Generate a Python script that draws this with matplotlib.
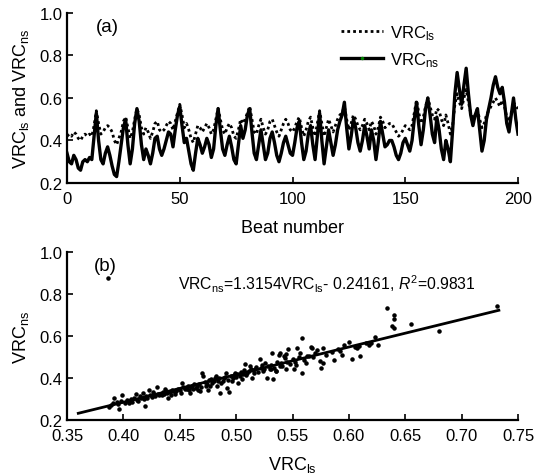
import numpy as np
import matplotlib
matplotlib.use("Agg")
import matplotlib.pyplot as plt
from matplotlib.lines import Line2D

plt.rcParams['font.family'] = ['Liberation Sans', 'DejaVu Sans']
plt.rcParams['mathtext.fontset'] = 'custom'
plt.rcParams['mathtext.rm'] = 'Liberation Sans'
plt.rcParams['mathtext.it'] = 'Liberation Sans:italic'

# beat-by-beat values, beats 0..200
vrc_ns = [0.34, 0.30, 0.29, 0.33, 0.31, 0.27, 0.26, 0.30, 0.31, 0.30,
          0.32, 0.31, 0.42, 0.53, 0.40, 0.31, 0.29, 0.34, 0.37, 0.33,
          0.28, 0.24, 0.23, 0.30, 0.38, 0.46, 0.50, 0.38, 0.29, 0.36,
          0.48, 0.55, 0.49, 0.38, 0.31, 0.36, 0.33, 0.29, 0.34, 0.41,
          0.42, 0.36, 0.33, 0.36, 0.40, 0.44, 0.43, 0.37, 0.45, 0.52,
          0.56, 0.47, 0.39, 0.41, 0.35, 0.29, 0.26, 0.34, 0.41, 0.38,
          0.34, 0.37, 0.41, 0.38, 0.32, 0.36, 0.47, 0.55, 0.45, 0.36,
          0.33, 0.38, 0.42, 0.37, 0.31, 0.29, 0.38, 0.47, 0.41, 0.45,
          0.52, 0.55, 0.44, 0.34, 0.31, 0.38, 0.45, 0.38, 0.31, 0.34,
          0.41, 0.44, 0.39, 0.33, 0.30, 0.34, 0.39, 0.42, 0.38, 0.34,
          0.33, 0.39, 0.46, 0.49, 0.39, 0.31, 0.35, 0.43, 0.47, 0.38,
          0.31, 0.42, 0.53, 0.40, 0.29, 0.37, 0.45, 0.39, 0.33, 0.38,
          0.45, 0.49, 0.52, 0.58, 0.46, 0.36, 0.42, 0.50, 0.46, 0.39,
          0.35, 0.40, 0.47, 0.42, 0.36, 0.45, 0.40, 0.31, 0.39, 0.49,
          0.43, 0.37, 0.38, 0.40, 0.40, 0.37, 0.33, 0.31, 0.34, 0.39,
          0.41, 0.38, 0.35, 0.40, 0.50, 0.58, 0.47, 0.38, 0.45, 0.55,
          0.60, 0.52, 0.43, 0.39, 0.51, 0.45, 0.36, 0.31, 0.40, 0.36,
          0.30, 0.45, 0.62, 0.72, 0.64, 0.57, 0.66, 0.74, 0.62, 0.52,
          0.47, 0.52, 0.55, 0.45, 0.35, 0.40, 0.50, 0.55, 0.60, 0.66,
          0.70, 0.65, 0.62, 0.65, 0.58, 0.48, 0.44, 0.52, 0.60, 0.50,
          0.43]

vrc_ls = [0.42, 0.43, 0.42, 0.44, 0.43, 0.41, 0.40, 0.42, 0.43, 0.42,
          0.43, 0.42, 0.47, 0.54, 0.48, 0.43, 0.44, 0.46, 0.47, 0.46,
          0.44, 0.40, 0.38, 0.41, 0.44, 0.49, 0.51, 0.46, 0.41, 0.44,
          0.50, 0.55, 0.52, 0.46, 0.43, 0.46, 0.44, 0.41, 0.44, 0.48,
          0.49, 0.45, 0.44, 0.45, 0.47, 0.49, 0.48, 0.45, 0.49, 0.53,
          0.57, 0.52, 0.46, 0.48, 0.45, 0.41, 0.39, 0.43, 0.47, 0.46,
          0.44, 0.46, 0.48, 0.46, 0.43, 0.45, 0.50, 0.55, 0.50, 0.45,
          0.43, 0.46, 0.48, 0.46, 0.42, 0.41, 0.45, 0.50, 0.48, 0.50,
          0.53, 0.56, 0.50, 0.44, 0.43, 0.47, 0.50, 0.46, 0.43, 0.45,
          0.49, 0.50, 0.47, 0.44, 0.42, 0.45, 0.48, 0.50, 0.48, 0.45,
          0.44, 0.46, 0.49, 0.51, 0.46, 0.42, 0.45, 0.49, 0.51, 0.46,
          0.42, 0.48, 0.54, 0.48, 0.42, 0.46, 0.50, 0.47, 0.44, 0.47,
          0.50, 0.52, 0.53, 0.56, 0.50, 0.45, 0.48, 0.52, 0.50, 0.47,
          0.45, 0.47, 0.50, 0.48, 0.45, 0.49, 0.47, 0.43, 0.46, 0.51,
          0.49, 0.46, 0.47, 0.48, 0.48, 0.46, 0.44, 0.42, 0.43, 0.45,
          0.47, 0.46, 0.45, 0.47, 0.53, 0.59, 0.53, 0.48, 0.51, 0.56,
          0.60, 0.56, 0.52, 0.50, 0.55, 0.54, 0.50, 0.47, 0.52, 0.48,
          0.43, 0.47, 0.57, 0.62, 0.58, 0.55, 0.60, 0.64, 0.58, 0.53,
          0.50, 0.52, 0.54, 0.50, 0.46, 0.48, 0.52, 0.54, 0.56, 0.58,
          0.60, 0.58, 0.56, 0.59, 0.56, 0.51, 0.49, 0.53, 0.58, 0.56,
          0.55]

beats = np.arange(len(vrc_ns))

# scatter points
sc_ls = [0.387, 0.396, 0.392, 0.394, 0.399, 0.404, 0.407, 0.411, 0.416, 0.419,
         0.417, 0.423, 0.427, 0.430, 0.434, 0.437, 0.440, 0.443, 0.446, 0.452,
         0.455, 0.459, 0.461, 0.464, 0.468, 0.470, 0.471, 0.473, 0.475, 0.479,
         0.482, 0.483, 0.486, 0.488, 0.491, 0.492, 0.494, 0.497, 0.499, 0.502,
         0.505, 0.508, 0.510, 0.513, 0.514, 0.517, 0.521, 0.524, 0.527, 0.530,
         0.533, 0.539, 0.542,
         0.389, 0.391, 0.395, 0.398, 0.401, 0.403, 0.405, 0.408, 0.409, 0.412,
         0.413, 0.415, 0.418, 0.420, 0.421, 0.424, 0.425, 0.426, 0.428, 0.431,
         0.432, 0.435, 0.436, 0.438, 0.439, 0.441, 0.442, 0.444, 0.447, 0.448,
         0.450, 0.451, 0.453, 0.456, 0.457, 0.458, 0.460, 0.462, 0.463, 0.465,
         0.466, 0.467, 0.469, 0.472, 0.474, 0.476, 0.477, 0.478, 0.480, 0.481,
         0.484, 0.485, 0.487, 0.489, 0.490, 0.493, 0.495, 0.496, 0.498, 0.500,
         0.501, 0.503, 0.504, 0.506, 0.507, 0.509, 0.511, 0.512, 0.515, 0.516,
         0.518, 0.519, 0.522, 0.523, 0.525, 0.526, 0.528, 0.531, 0.534, 0.536,
         0.540, 0.541, 0.545, 0.548, 0.550, 0.552, 0.556, 0.560, 0.563, 0.568,
         0.570, 0.580, 0.585, 0.592, 0.605, 0.618, 0.620,
         0.546, 0.544, 0.543, 0.538, 0.532, 0.535, 0.544, 0.551, 0.553, 0.535,
         0.539, 0.531, 0.554, 0.557, 0.562, 0.558, 0.565, 0.574, 0.575, 0.577,
         0.558, 0.566, 0.567, 0.572, 0.577, 0.587, 0.590, 0.594, 0.596, 0.600,
         0.603, 0.607, 0.609, 0.610, 0.615, 0.623, 0.626,
         0.634, 0.640, 0.640, 0.638, 0.640, 0.655, 0.680, 0.731, 0.386]
sc_ns = [0.260, 0.252, 0.303, 0.287, 0.318, 0.291, 0.300, 0.322, 0.306, 0.268,
         0.330, 0.343, 0.322, 0.358, 0.318, 0.346, 0.306, 0.343, 0.322, 0.374,
         0.346, 0.330, 0.364, 0.351, 0.338, 0.426, 0.410, 0.364, 0.343, 0.378,
         0.410, 0.364, 0.330, 0.386, 0.426, 0.351, 0.335, 0.402, 0.426, 0.378,
         0.394, 0.467, 0.426, 0.443, 0.402, 0.443, 0.490, 0.435, 0.402, 0.443,
         0.397, 0.520, 0.507,
         0.272, 0.281, 0.276, 0.290, 0.283, 0.296, 0.280, 0.288, 0.305, 0.296,
         0.289, 0.312, 0.300, 0.316, 0.305, 0.318, 0.310, 0.331, 0.313, 0.326,
         0.317, 0.333, 0.322, 0.338, 0.327, 0.335, 0.321, 0.340, 0.338, 0.350,
         0.343, 0.330, 0.355, 0.350, 0.362, 0.345, 0.355, 0.348, 0.371, 0.360,
         0.342, 0.370, 0.358, 0.380, 0.371, 0.390, 0.362, 0.395, 0.385, 0.398,
         0.387, 0.402, 0.375, 0.398, 0.405, 0.392, 0.410, 0.385, 0.415, 0.403,
         0.420, 0.408, 0.430, 0.418, 0.440, 0.412, 0.432, 0.455, 0.438, 0.425,
         0.452, 0.430, 0.448, 0.460, 0.442, 0.470, 0.455, 0.462, 0.450, 0.476,
         0.470, 0.455, 0.478, 0.468, 0.490, 0.475, 0.498, 0.485, 0.505, 0.500,
         0.520, 0.510, 0.525, 0.530, 0.548, 0.556, 0.565,
         0.540, 0.512, 0.497, 0.511, 0.520, 0.433, 0.445, 0.441, 0.462, 0.433,
         0.457, 0.441, 0.544, 0.520, 0.473, 0.425, 0.504, 0.480, 0.449, 0.473,
         0.589, 0.547, 0.541, 0.532, 0.541, 0.484, 0.539, 0.511, 0.555, 0.570,
         0.489, 0.544, 0.551, 0.504, 0.567, 0.596, 0.558,
         0.733, 0.698, 0.681, 0.646, 0.637, 0.659, 0.622, 0.742, 0.876]

slope = 1.3154
intercept = -0.24161
fit_x = np.array([0.36, 0.733])

fig = plt.figure(figsize=(5.34, 4.77), dpi=100)
ax1 = fig.add_axes([0.1255, 0.6143, 0.8446, 0.3564])
ax2 = fig.add_axes([0.1255, 0.1174, 0.8446, 0.3522])

for ax in (ax1, ax2):
    ax.spines['top'].set_visible(False)
    ax.spines['right'].set_visible(False)
    ax.spines['left'].set_linewidth(1.6)
    ax.spines['bottom'].set_linewidth(1.6)
    ax.tick_params(direction='in', length=4, width=1.2, labelsize=12)
    ax.tick_params(axis='x', pad=6)
    ax.tick_params(axis='y', pad=3)

# panel (a)
ax1.plot(beats, vrc_ls, color='black', linestyle=(0, (1, 1.1)), linewidth=2.0)
ax1.plot(beats, vrc_ns, color='black', linestyle='-', linewidth=2.4)
ax1.set_xlim(0, 200)
ax1.set_ylim(0.2, 1.0)
ax1.set_xticks([0, 50, 100, 150, 200])
ax1.set_yticks([0.2, 0.4, 0.6, 0.8, 1.0])
ax1.set_yticklabels(['0.2', '0.4', '0.6', '0.8', '1.0'])
ax1.set_xlabel('Beat number', fontsize=13, labelpad=9)
ax1.set_ylabel(r'VRC$_{\mathrm{ls}}$ and VRC$_{\mathrm{ns}}$', fontsize=13, labelpad=6)
ax1.text(18, 0.935, '(a)', fontsize=13.5, ha='center', va='center')

h_ls = Line2D([], [], color='black', linestyle=(0, (1, 1.1)), linewidth=2.0)
h_ns = Line2D([], [], color='black', linestyle='-', linewidth=2.4,
              marker='o', markersize=1.5, markerfacecolor='green', markeredgecolor='green')
ax1.legend([h_ls, h_ns], [r'VRC$_{\mathrm{ls}}$', r'VRC$_{\mathrm{ns}}$'],
           loc='upper left', bbox_to_anchor=(0.575, 1.03), frameon=False,
           fontsize=12, handlelength=2.5, handletextpad=0.4, labelspacing=0.5,
           numpoints=1)

# panel (b)
ax2.scatter(sc_ls, sc_ns, s=5, color='black', zorder=3)
ax2.plot(fit_x, slope * fit_x + intercept, color='black', linewidth=2.0)
ax2.set_xlim(0.35, 0.75)
ax2.set_ylim(0.2, 1.0)
ax2.set_xticks([0.35, 0.40, 0.45, 0.50, 0.55, 0.60, 0.65, 0.70, 0.75])
ax2.set_xticklabels(['0.35', '0.40', '0.45', '0.50', '0.55', '0.60', '0.65', '0.70', '0.75'])
ax2.set_yticks([0.2, 0.4, 0.6, 0.8, 1.0])
ax2.set_yticklabels(['0.2', '0.4', '0.6', '0.8', '1.0'])
ax2.set_xlabel(r'VRC$_{\mathrm{ls}}$', fontsize=13, labelpad=8)
ax2.set_ylabel(r'VRC$_{\mathrm{ns}}$', fontsize=13, labelpad=6)
ax2.text(0.384, 0.937, '(b)', fontsize=13.5, ha='center', va='center')
ax2.text(0.4486, 0.852,
         r'VRC$_{\mathrm{ns}}$=1.3154VRC$_{\mathrm{ls}}$- 0.24161, $\mathit{R}^2$=0.9831',
         fontsize=11.3, ha='left', va='center')

fig.savefig('out.png', dpi=100)
